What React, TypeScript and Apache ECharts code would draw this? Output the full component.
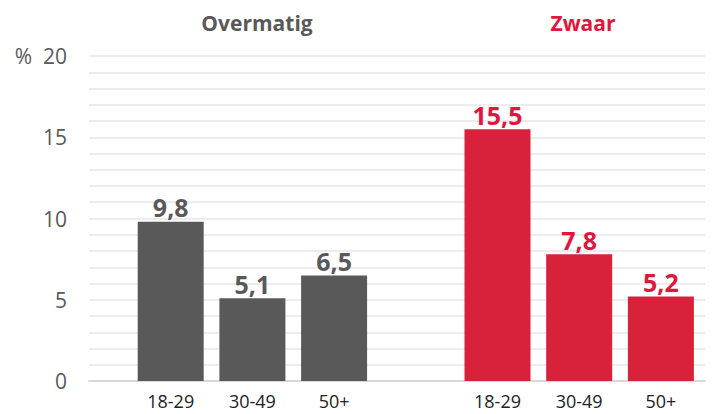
import React, { useEffect, useRef } from "react";
import * as echarts from "echarts";

const groups = ["Overmatig", "Zwaar"];
const ageLabels = ["18-29", "30-49", "50+"];
const overmatig = [9.8, 5.1, 6.5];
const zwaar = [15.5, 7.8, 5.2];
const overmatigPos = [1, 2, 3];
const zwaarPos = [5, 6, 7];
const yTicks = [0, 5, 10, 15, 20];

const GRAY = "#595959";
const RED = "#d8223b";
const RED_TEXT = "#e0173c";
const FONT = "Open Sans";

export default function App() {
  const ref = useRef<HTMLDivElement>(null);
  useEffect(() => {
    if (!ref.current) return;
    const chart = echarts.init(ref.current, undefined, { renderer: "svg" });
    const posLabel: Record<number, string> = {};
    overmatigPos.forEach((p, i) => (posLabel[p] = ageLabels[i]));
    zwaarPos.forEach((p, i) => (posLabel[p] = ageLabels[i]));
    const fmt = (v: number) => v.toFixed(1).replace(".", ",");
    chart.setOption({
      animation: false,
      textStyle: { fontFamily: FONT },
      title: [
        {
          text: groups[0],
          left: 252,
          top: 7,
          textAlign: "center",
          textStyle: { color: GRAY, fontSize: 21, fontWeight: "bold", fontFamily: FONT },
        },
        {
          text: groups[1],
          left: 578,
          top: 7,
          textAlign: "center",
          textStyle: { color: RED_TEXT, fontSize: 21, fontWeight: "bold", fontFamily: FONT },
        },
      ],
      grid: { left: 89, right: 7, top: 56, bottom: 33, containLabel: false },
      xAxis: {
        type: "value",
        min: 0,
        max: 7.54,
        interval: 1,
        splitLine: { show: false },
        axisTick: { show: false },
        axisLine: { show: true, lineStyle: { color: "#d9d9d9", width: 2 } },
        axisLabel: {
          formatter: (v: number) => posLabel[v] ?? "",
          color: "#222",
          fontSize: 18,
          margin: 11,
          fontFamily: FONT,
          showMaxLabel: false,
        },
      },
      yAxis: {
        type: "value",
        min: yTicks[0],
        max: yTicks[yTicks.length - 1],
        interval: 5,
        axisLine: { show: false },
        axisTick: { show: false },
        axisLabel: {
          formatter: (v: number) => (v === 20 ? "%  20" : String(v)),
          color: GRAY,
          fontSize: 21,
          margin: 22,
          fontFamily: FONT,
        },
        splitLine: { show: true, lineStyle: { color: "#ececec", width: 2 } },
        minorTick: { show: false, splitNumber: 5 },
        minorSplitLine: { show: true, lineStyle: { color: "#ececec", width: 2 } },
      },
      series: [
        {
          type: "bar",
          stack: "all",
          barWidth: 66,
          itemStyle: { color: GRAY },
          label: {
            show: true,
            position: "top",
            distance: 2,
            formatter: (p: any) => fmt(p.value[1]),
            color: GRAY,
            fontSize: 25,
            fontWeight: "bold",
            fontFamily: FONT,
          },
          data: overmatig.map((v, i) => [overmatigPos[i], v]),
        },
        {
          type: "bar",
          stack: "all",
          barWidth: 66,
          itemStyle: { color: RED },
          label: {
            show: true,
            position: "top",
            distance: 2,
            formatter: (p: any) => fmt(p.value[1]),
            color: RED_TEXT,
            fontSize: 25,
            fontWeight: "bold",
            fontFamily: FONT,
          },
          data: zwaar.map((v, i) => [zwaarPos[i], v]),
        },
      ],
    });
    return () => chart.dispose();
  }, []);
  return (
    <div
      ref={ref}
      style={{ position: "fixed", left: 0, top: 0, width: 712, height: 414, background: "#fff" }}
    />
  );
}
